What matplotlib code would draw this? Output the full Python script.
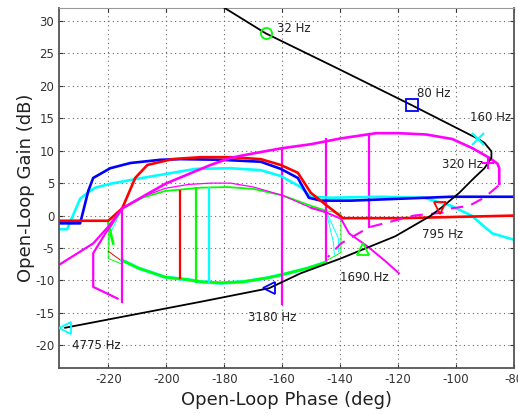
import matplotlib
matplotlib.use("Agg")
import matplotlib.pyplot as plt
import numpy as np

plt.rcParams['axes.unicode_minus'] = False
plt.rcParams['font.family'] = ['DejaVu Sans']

# ---------------- data (phase deg, gain dB) ----------------
# Open-loop Nichols response
L_phase = [-182, -165.7, -140.5, -115.2, -92.3, -90.2, -87.8, -87.8, -90.2, -94.0, -98.9,
           -105.1, -109.0, -121.0, -132.0, -139.7, -153.6, -164.5, -188.2, -234.9]
L_gain = [32.6, 28.1, 22.6, 17.0, 11.8, 11.2, 9.9, 8.9, 7.3, 5.7, 3.5,
          1.2, -0.1, -3.2, -5.2, -6.6, -8.9, -11.2, -13.3, -17.3]

# frequency markers
mk_freq = ['32 Hz', '80 Hz', '160 Hz', '320 Hz', '795 Hz', '1690 Hz', '3180 Hz', '4775 Hz']
mk_phase = [-165.7, -115.2, -92.3, -89.0, -105.6, -132.1, -164.5, -235.0]
mk_gain = [28.1, 17.0, 11.8, 8.1, 1.2, -5.2, -11.2, -17.3]
mk_style = ['o', 's', 'x', '+', 'v', '^', '<', '<']
mk_color = ['#00ff00', '#0000ff', '#00ffff', '#ff00ff', '#ff00ff', '#00ff00', '#0000ff', '#00ffff']
mk_color[4] = '#ff0000'
lbl_phase = [-161.9, -113.4, -95.1, -104.8, -111.7, -140.1, -171.9, -232.5]
lbl_gain = [28.9, 18.8, 15.1, 7.9, -2.9, -9.5, -15.7, -20.0]

# Upper bound curves
blue_phase = [-237, -229.7, -226.9, -225.2, -219.3, -212.4, -202, -195.1, -181.2, -167.4,
              -160.5, -154.6, -150.8, -146.6, -136.3, -119, -101.7, -79.5]
blue_gain = [-1.2, -1.2, 3.8, 5.8, 7.3, 8.1, 8.6, 8.7, 8.6, 8.3,
             7.2, 5.8, 2.75, 2.3, 2.3, 2.6, 2.9, 2.9]

red_phase = [-237, -220, -215.2, -210.7, -206.5, -197.9, -188.2, -177.8, -167.4, -160.5,
             -154.6, -150.1, -144.2, -139, -119, -79.5]
red_gain = [-0.8, -0.8, 1.1, 5.8, 7.8, 8.7, 9.0, 9.0, 8.7, 7.8,
            6.6, 3.5, 1.4, -0.4, -0.4, 0.0]

cyan_phase = [-237, -234.2, -229.7, -226.9, -224.5, -219.3, -209.6, -200.3, -189.9, -177.8,
              -167.4, -160.5, -153.6, -150.1, -143.2, -125.9, -111, -101.7, -94.7, -87.5, -79.5]
cyan_gain = [-2.1, -2.1, 2.6, 3.6, 4.3, 4.9, 5.7, 6.4, 7.2, 7.3,
             7.0, 6.1, 4.4, 2.9, 2.75, 2.9, 2.75, 1.5, 0.0, -2.75, -3.8]

mag_phase = [-215.2, -208.2, -200.3, -192.3, -184.7, -177.8, -169.8, -159.8, -150.1, -139.7,
             -127.6, -119.7, -110.3, -101.3, -94.4, -88.5, -85.7, -85.1, -85.1]
mag_gain = [1.1, 2.9, 4.9, 6.4, 7.8, 8.9, 9.6, 10.4, 11.0, 11.9,
            12.7, 12.7, 12.5, 11.8, 10.4, 8.9, 8.0, 7.3, 4.9]

mag_dash_phase = [-85.4, -90.3, -95.5, -101.7, -104.4, -114.5, -130, -139.7, -144.2]
mag_dash_gain = [4.6, 2.75, 1.5, 1.1, 0.46, 0.0, -1.8, -4.3, -6.4]

mag_low_phase = [-150.1, -144.9, -139.7, -136.9, -130.4, -124.2, -119.7]
mag_low_gain = [1.2, 0.5, -0.5, -2.75, -4.8, -7.1, -8.9]

magA_phase = [-237, -225.2, -220, -215.2]
magA_gain = [-7.6, -4.3, -1.7, 1.1]
magB_phase = [-215.2, -221, -225.2, -225.2, -220, -216.8]
magB_gain = [1.1, -2.75, -5.8, -11.0, -12.1, -12.8]

# lower closed bound
low_top_phase = [-215.2, -208.2, -200.3, -195.1, -188.2, -178.9, -169.9, -159.8, -150.1, -144.9]
low_top_gain = [1.1, 2.75, 3.8, 4.0, 4.3, 4.4, 4.1, 3.1, 1.5, 0.76]
low_mag_phase = [-215.2, -208.2, -200.3, -192.3, -184.7, -177.8, -169.9, -159.8, -150.1, -144.9]
low_mag_gain = [1.1, 2.9, 4.2, 4.8, 5.0, 5.0, 4.4, 3.1, 1.2, 0.5]
low_bot_phase = [-215.2, -209.6, -200.3, -192.3, -188.2, -181.2, -173.3, -165, -158.1, -151.1, -144.9]
low_bot_gain = [-6.9, -8.1, -9.5, -9.9, -10.2, -10.4, -10.2, -9.6, -8.9, -8.1, -7.2]

# vertical segments (phase, gain_top, gain_bottom, color)
vert_phase = [-195.1, -189.9, -185.1, -215.2, -159.9, -144.9, -130.0]
vert_top = [3.8, 4.2, 4.3, 1.1, 10.4, 11.8, 12.6]
vert_bot = [-9.7, -10.2, -10.4, -13.3, -13.6, -6.9, -1.8]
vert_color = ['#ff0000', '#00ff00', '#00ffff', '#ff00ff', '#ff00ff', '#ff00ff', '#ff00ff']

# thin outlines
gthinR_phase = [-144.9, -139.7, -139.7, -144.9, -144.9]
gthinR_gain = [0.76, 0.3, -5.7, -7.0, 0.76]
cthinR_phase = [-144.9, -140.6, -140.6]
cthinR_gain = [0.76, -3.5, -5.6]
cthinR2_phase = [-144.9, -142.3, -142.0]
cthinR2_gain = [0.76, -4.2, -6.0]
gthinL_phase = [-215.2, -220, -220, -215.2]
gthinL_gain = [1.1, -2.5, -6.6, -7.5]
rthinL_phase = [-220, -216.0]
rthinL_gain = [-5.5, -6.8]
cthinL_phase = [-215.2, -219.6, -219.6]
cthinL_gain = [1.1, -3.0, -4.6]
gthickL_phase = [-220, -218.3]
gthickL_gain = [-1.2, -4.3]

xticks = [-220, -200, -180, -160, -140, -120, -100, -80]
yticks = [-20, -15, -10, -5, 0, 5, 10, 15, 20, 25, 30]

# ---------------- plot ----------------
fig = plt.figure(figsize=(5.18, 4.15), dpi=100)
ax = fig.add_axes([0.1139, 0.1133, 0.8784, 0.8674])

R, G, B, C, M = '#ff0000', '#00ff00', '#0000ff', '#00ffff', '#ff00ff'
thick = 1.9
thin = 0.7

# lower bound
ax.plot(low_top_phase, low_top_gain, color=G, lw=1.3)
ax.plot(low_mag_phase, low_mag_gain, color=M, lw=0.9)
ax.plot(low_bot_phase, low_bot_gain, color=C, lw=2.4)
ax.plot(low_bot_phase, low_bot_gain, color=G, lw=1.8)
ax.plot(gthinR_phase, gthinR_gain, color=G, lw=thin)
ax.plot(cthinR_phase, cthinR_gain, color=C, lw=thin)
ax.plot(cthinR2_phase, cthinR2_gain, color=C, lw=thin)
ax.plot(gthinL_phase, gthinL_gain, color=G, lw=thin)
ax.plot(rthinL_phase, rthinL_gain, color=R, lw=thin)
ax.plot(cthinL_phase, cthinL_gain, color=C, lw=thin)
ax.plot(gthickL_phase, gthickL_gain, color=G, lw=thick)

for p, t, b, c in zip(vert_phase, vert_top, vert_bot, vert_color):
    ax.plot([p, p], [t, b], color=c, lw=1.6)

# upper bounds
ax.plot(cyan_phase, cyan_gain, color=C, lw=thick)
ax.plot(blue_phase, blue_gain, color=B, lw=thick)
ax.plot(red_phase, red_gain, color=R, lw=thick)
ax.plot(mag_phase, mag_gain, color=M, lw=thick)
ax.plot(mag_dash_phase, mag_dash_gain, color=M, lw=1.5, ls=(0, (6, 4)))
ax.plot(mag_low_phase, mag_low_gain, color=M, lw=1.4)
ax.plot(magA_phase, magA_gain, color=M, lw=1.6)
ax.plot(magB_phase, magB_gain, color=M, lw=1.6)

# open loop
ax.plot(L_phase, L_gain, color='black', lw=1.3, zorder=5)
for p, g, s, c in zip(mk_phase, mk_gain, mk_style, mk_color):
    if s in ('x', '+'):
        ax.plot(p, g, marker=s, color=c, ms=8, mew=1.5, ls='none', zorder=6)
    else:
        ax.plot(p, g, marker=s, mfc='none', mec=c, ms=8, mew=1.3, ls='none', zorder=6)
for lab, p, g in zip(mk_freq, lbl_phase, lbl_gain):
    ax.text(p, g, lab, fontsize=8.5, color='#222222', va='center', ha='left', zorder=7)

ax.set_xlim(-237, -80)
ax.set_ylim(-23.5, 32)
ax.set_xticks(xticks)
ax.set_yticks(yticks)
ax.grid(True, ls=(0, (1, 3)), color='#666666', lw=0.8)
ax.tick_params(direction='in', top=True, right=True, labelsize=8.5, colors='#333333',
               length=3)
for name, s in ax.spines.items():
    if name in ('left', 'bottom', 'right'):
        s.set_color('#555555')
        s.set_linewidth(1.3)
    else:
        s.set_color('#999999')
        s.set_linewidth(0.8)
ax.set_xlabel('Open-Loop Phase (deg)', fontsize=13, color='#222222', labelpad=4)
ax.set_ylabel('Open-Loop Gain (dB)', fontsize=13, color='#222222', labelpad=0)

fig.savefig('out.png', dpi=100)
